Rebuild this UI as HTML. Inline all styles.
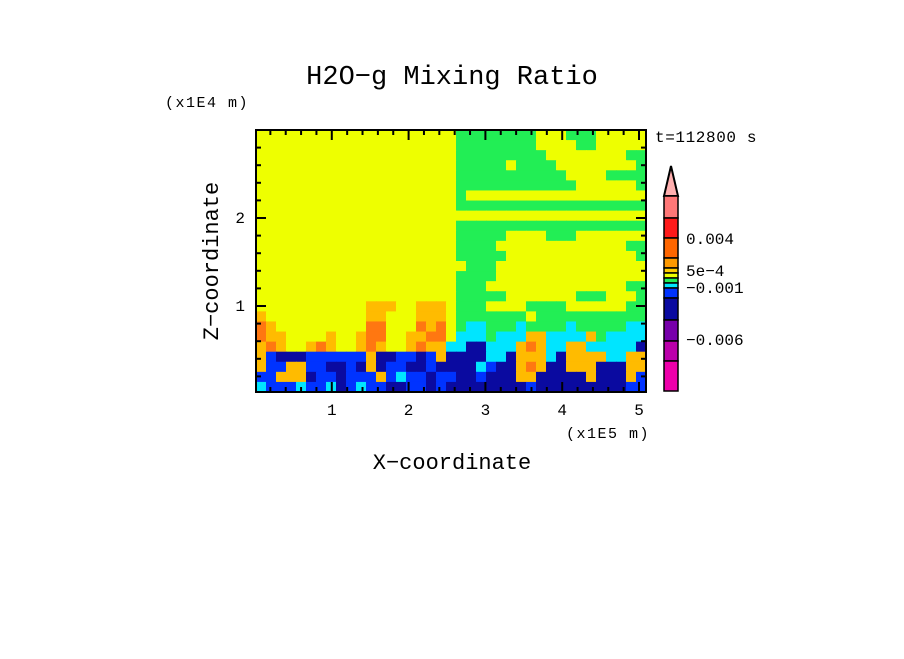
<!DOCTYPE html>
<html><head><meta charset="utf-8"><style>
body{margin:0;background:#fff;}
svg text{font-family:"Liberation Mono",monospace;fill:#000;}
</style></head><body>
<svg id="c" width="904" height="654" xmlns="http://www.w3.org/2000/svg">
<text x="452" y="84" font-size="27" text-anchor="middle">H2O−g Mixing Ratio</text>
<text x="165" y="107" font-size="15" letter-spacing="1.5">(x1E4 m)</text>
<text x="566" y="438" font-size="15" letter-spacing="1.5">(x1E5 m)</text>
<text x="452" y="469" font-size="22" text-anchor="middle">X−coordinate</text>
<text x="0" y="0" font-size="22" text-anchor="middle" transform="translate(218,261) rotate(-90)">Z−coordinate</text>
<text x="655" y="142" font-size="16" letter-spacing="0.6">t=112800 s</text>
<g id="cells"></g><g id="ticks"></g><g id="cbar"></g>
<rect x="256" y="130" width="390" height="262" fill="none" stroke="#000" stroke-width="2"/>
</svg>
<script>
const rows=[
"YYYYYYYYYYYYYYYYYYYYGGGGGGGGYYYGGGYYYYY",
"YYYYYYYYYYYYYYYYYYYYGGGGGGGGYYYYGGYYYYY",
"YYYYYYYYYYYYYYYYYYYYGGGGGGGGGYYYYYYYYGG",
"YYYYYYYYYYYYYYYYYYYYGGGGGYGGGGYYYYYYYYG",
"YYYYYYYYYYYYYYYYYYYYGGGGGGGGGGGYYYYGGGG",
"YYYYYYYYYYYYYYYYYYYYGGGGGGGGGGGGYYYYYYG",
"YYYYYYYYYYYYYYYYYYYYGYYYYYYYYYYYYYYYYYY",
"YYYYYYYYYYYYYYYYYYYYGGGGGGGGGGGGGGGGGGG",
"YYYYYYYYYYYYYYYYYYYYYYYYYYYYYYYYYYYYYYY",
"YYYYYYYYYYYYYYYYYYYYGGGGGGGGGGGGGGGGGGG",
"YYYYYYYYYYYYYYYYYYYYGGGGGYYYYGGGYYYYYYY",
"YYYYYYYYYYYYYYYYYYYYGGGGYYYYYYYYYYYYYGG",
"YYYYYYYYYYYYYYYYYYYYGGGGGYYYYYYYYYYYYYG",
"YYYYYYYYYYYYYYYYYYYYYGGGYYYYYYYYYYYYYYY",
"YYYYYYYYYYYYYYYYYYYYGGGGYYYYYYYYYYYYYYY",
"YYYYYYYYYYYYYYYYYYYYGGGYYYYYYYYYYYYYYGG",
"YYYYYYYYYYYYYYYYYYYYGGGGGYYYYYYYGGGYYYG",
"YYYYYYYYYYYOOOYYOOOYGGGYYYYGGGGYYYYYYGG",
"OYYYYYYYYYYOOYYYOOOYGGGGGGGYGGGGGGGGGGG",
"ROYYYYYYYYYRRYYYRORYGCCGGGCGGGGCGGGGGCC",
"ROOYYYYOYYORRYYOORRYCCCGCCCOOCCCCOGCCCC",
"OROYYOROYYOROYYOROOCCNNCCCOROCCOOCCCCCN",
"OBNNNBBBBBBONNBBNBONNNNCCNOOOCNOOOOCCOO",
"OBBOOBBNNBNONBBNNBNNNNCBNNORONNOOONNNOO",
"BBOOONBBNBBBOBCBBNBBNNBNNNOONNNNNONNNOB",
"CBBBCBBCNBCBBNNBBNBNNNNNNNNBNNNNNNNNNBB"];
const colorKey={Y:"#eeff00",G:"#22ee55",C:"#00e5ff",B:"#0033ff",N:"#0a0aa0",O:"#ffbb00",R:"#ff7711",P:"#7700aa"};
const xTicks=[1,2,3,4,5];
const yTicks=[1,2];
const cbLevels=["#ff7777","#ff1a1a","#ff6600","#ff9900","#ffcc00","#eeff00","#22ee55","#00e5ff","#0033ff","#0a0aa0","#7700aa","#bb00aa","#ee00aa"];
const cbBounds=[196,218,238,258,268,273,278,283,288,298,320,341,361,391];
const cbLabels=["0.004","5e−4","−0.001","−0.006"];
const cbLabelY=[244,276,293,345];
const NS="http://www.w3.org/2000/svg";
const X0=256,Y0=130,W=390,H=262;
const sx=v=>255+v*76.8, sy=v=>394-v*88;
const cw=W/rows[0].length, ch=H/rows.length;
const g=document.getElementById('cells');
rows.forEach((r,i)=>{for(let j=0;j<r.length;j++){
 const e=document.createElementNS(NS,'rect');
 e.setAttribute('x',X0+j*cw);e.setAttribute('y',Y0+i*ch);
 e.setAttribute('width',cw+0.6);e.setAttribute('height',ch+0.6);
 e.setAttribute('fill',colorKey[r[j]]);
 
 
 g.appendChild(e);}});
const t=document.getElementById('ticks');
function line(x1,y1,x2,y2,n){const l=document.createElementNS(NS,'line');l.setAttribute('x1',x1);l.setAttribute('y1',y1);l.setAttribute('x2',x2);l.setAttribute('y2',y2);l.setAttribute('stroke','#000');l.setAttribute('stroke-width',2);


t.appendChild(l);}
function txt(x,y,s,a,n,p){const e=document.createElementNS(NS,'text');e.setAttribute('x',x);e.setAttribute('y',y);e.setAttribute('font-size',16);e.setAttribute('text-anchor',a);e.textContent=s;


p.appendChild(e);}
for(let v=0.2;v<5.1;v+=0.2){const x=sx(v),maj=Math.abs(v-Math.round(v))<0.01;line(x,392,x,392-(maj?10:5),'x-tick');line(x,130,x,130+(maj?10:5),'x-tick');}
for(let v=0.2;v<3;v+=0.2){const y=sy(v),maj=Math.abs(v-Math.round(v))<0.01;line(256,y,256+(maj?10:5),y,'y-tick');line(646,y,646-(maj?10:5),y,'y-tick');}
xTicks.forEach(v=>txt(sx(v),415,String(v),'middle','x-tick-label',t));
yTicks.forEach(v=>txt(245,sy(v)+5,String(v),'end','y-tick-label',t));
const cb=document.getElementById('cbar');
const tip=document.createElementNS(NS,'polygon');
tip.setAttribute('points','664,196 678,196 671,166');tip.setAttribute('fill','#ffb0b0');tip.setAttribute('stroke','#000');tip.setAttribute('stroke-width',2);


cb.appendChild(tip);
cbLevels.forEach((c,i)=>{const e=document.createElementNS(NS,'rect');e.setAttribute('x',664);e.setAttribute('y',cbBounds[i]);e.setAttribute('width',14);e.setAttribute('height',cbBounds[i+1]-cbBounds[i]);e.setAttribute('fill',c);e.setAttribute('stroke','#000');e.setAttribute('stroke-width',1.5);


cb.appendChild(e);});
cbLabels.forEach((s,i)=>txt(686,cbLabelY[i],s,'start','colorbar-label',cb));
</script>
</body></html>
